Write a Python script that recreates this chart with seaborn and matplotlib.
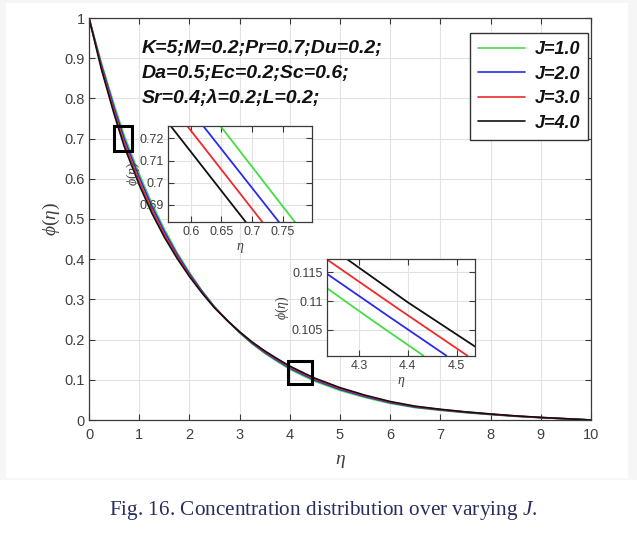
import numpy as np
import pandas as pd
import matplotlib
matplotlib.use("Agg")
import matplotlib.pyplot as plt
from matplotlib.patches import Rectangle
import seaborn as sns

# ---------------- data ----------------
eta = [0, 0.25, 0.5, 0.7, 1, 1.25, 1.5, 1.75, 2, 2.25, 2.5, 2.75, 3, 3.25, 3.5, 3.75,
       4, 4.3, 4.5, 5, 5.5, 6, 6.5, 7, 7.5, 8, 8.5, 9, 9.5, 10]
phi_J1 = [1.000, 0.887, 0.784, 0.708, 0.612, 0.539, 0.475, 0.417, 0.367, 0.322, 0.282, 0.248,
          0.217, 0.1895, 0.166, 0.1455, 0.1263, 0.1079, 0.0962, 0.0735, 0.056, 0.0413, 0.0307,
          0.024, 0.0182, 0.0134, 0.0091, 0.0058, 0.0029, 0.000]
phi_J2 = [1.000, 0.882, 0.777, 0.700, 0.604, 0.532, 0.469, 0.413, 0.364, 0.320, 0.281, 0.248,
          0.218, 0.191, 0.168, 0.148, 0.129, 0.1107, 0.099, 0.076, 0.058, 0.043, 0.032,
          0.025, 0.019, 0.014, 0.0095, 0.006, 0.003, 0.000]
phi_J3 = [1.000, 0.876, 0.768, 0.690, 0.594, 0.523, 0.4615, 0.408, 0.360, 0.3175, 0.280, 0.248,
          0.219, 0.1927, 0.1702, 0.1505, 0.1317, 0.1134, 0.1017, 0.0785, 0.060, 0.0447, 0.0333,
          0.026, 0.0198, 0.0146, 0.0099, 0.0062, 0.0031, 0.000]
phi_J4 = [1.000, 0.871, 0.761, 0.681, 0.585, 0.515, 0.455, 0.403, 0.357, 0.316, 0.279, 0.248,
          0.2195, 0.194, 0.172, 0.1525, 0.134, 0.1157, 0.104, 0.0805, 0.0617, 0.046, 0.0343,
          0.0267, 0.0203, 0.015, 0.0102, 0.0064, 0.0032, 0.000]

labels = ["J=1.0", "J=2.0", "J=3.0", "J=4.0"]
colors = ["#44dd44", "#2a2aee", "#ee2a2a", "#111111"]

# inset 1 (near eta = 0.7)
in1_phi = [0.7257, 0.6822]
in1_eta_J1 = [0.648, 0.770]
in1_eta_J2 = [0.620, 0.744]
in1_eta_J3 = [0.594, 0.717]
in1_eta_J4 = [0.567, 0.690]

# inset 2 (near eta = 4.3)
in2_eta_J1 = [4.234, 4.330, 4.432]
in2_phi_J1 = [0.1123, 0.1065, 0.1005]
in2_eta_J2 = [4.234, 4.360, 4.479]
in2_phi_J2 = [0.1148, 0.1074, 0.1005]
in2_eta_J3 = [4.234, 4.380, 4.522]
in2_phi_J3 = [0.1173, 0.1087, 0.1005]
in2_eta_J4 = [4.276, 4.400, 4.5375]
in2_phi_J4 = [0.1173, 0.1098, 0.1021]

# ---------------- style ----------------
sns.set_theme(style="whitegrid")
plt.rcParams["font.family"] = ["Liberation Sans", "DejaVu Sans"]
plt.rcParams["mathtext.fontset"] = "custom"
plt.rcParams["mathtext.rm"] = "Liberation Serif"
plt.rcParams["mathtext.it"] = "Liberation Serif:italic"
plt.rcParams["mathtext.bf"] = "Liberation Serif:bold"

W, H = 637, 533
fig = plt.figure(figsize=(W / 100, H / 100), dpi=100)
fig.patch.set_facecolor("white")
fig.patches.append(Rectangle((0, (H - 480) / H), 1, 480 / H, transform=fig.transFigure,
                             facecolor="#f6f6f6", edgecolor="none", zorder=-10))
fig.patches.append(Rectangle((6 / W, (H - 478) / H), 622 / W, 475 / H, transform=fig.transFigure,
                             facecolor="white", edgecolor="none", zorder=-9))

def fx(px):
    return px / W

def fy(py):
    return 1 - py / H

axis_col = "#3a3a3a"
grid_col = "#e2e2e2"

def style_axes(ax, fs):
    ax.set_facecolor("white")
    for s in ax.spines.values():
        s.set_color(axis_col)
        s.set_linewidth(0.9)
        s.set_visible(True)
    ax.grid(True, color=grid_col, linewidth=0.8)
    ax.tick_params(direction="in", length=4, width=0.8, colors=axis_col,
                   labelsize=fs, labelcolor="#404040", top=True, right=True,
                   bottom=True, left=True, pad=3)

# main axes
left, right, top, bottom = 89, 591, 18, 420
ax = fig.add_axes([fx(left), fy(bottom), fx(right - left), (bottom - top) / H])
series = [phi_J1, phi_J2, phi_J3, phi_J4]
for vals, lab, c in zip(series, labels, colors):
    sns.lineplot(x=eta, y=vals, ax=ax, color=c, label=lab, linewidth=1.2)
ax.set_xlim(0, 10)
ax.set_ylim(0, 1)
ax.set_xticks(np.arange(0, 11, 1))
ax.set_yticks(np.arange(0, 1.01, 0.1))
ax.set_xticklabels([str(i) for i in range(11)])
ax.set_yticklabels(["0"] + [f"{v:.1f}" for v in np.arange(0.1, 0.95, 0.1)] + ["1"])
style_axes(ax, 10.5)
ax.tick_params(axis="x", pad=6)
ax.set_xlabel(r"$\eta$", fontsize=14, color="#404040", labelpad=8)
ax.set_ylabel(r"$\phi(\eta)$", fontsize=14, color="#404040", labelpad=2)

leg = ax.legend(loc="upper right", bbox_to_anchor=(0.994, 0.963), borderaxespad=0,
                frameon=True, fancybox=False, handlelength=2.6, handletextpad=0.5,
                borderpad=0.45, labelspacing=0.42,
                prop={"family": "Liberation Sans", "weight": "bold", "style": "italic", "size": 13})
leg.get_frame().set_edgecolor("#333333")
leg.get_frame().set_linewidth(1.0)
leg.get_frame().set_facecolor("white")
leg.get_frame().set_alpha(1)
for t in leg.get_texts():
    t.set_color("#111111")

ann = ["K=5;M=0.2;Pr=0.7;Du=0.2;", "Da=0.5;Ec=0.2;Sc=0.6;", "Sr=0.4;\u03bb=0.2;L=0.2;"]
for i, line in enumerate(ann):
    ax.text(1.05, 0.923 - i * 0.062, line, fontsize=14, fontweight="bold",
            fontstyle="italic", color="#111111", va="center", ha="left",
            family=["Liberation Sans", "DejaVu Sans"])

# zoom markers
ax.add_patch(Rectangle((0.50, 0.670), 0.35, 0.061, fill=False, edgecolor="black", linewidth=2.2, zorder=5))
ax.add_patch(Rectangle((3.96, 0.090), 0.476, 0.0575, fill=False, edgecolor="black", linewidth=2.2, zorder=5))

# inset 1
i1l, i1r, i1t, i1b = 168, 311.7, 125.7, 222.3
ax1 = fig.add_axes([fx(i1l), fy(i1b), fx(i1r - i1l), (i1b - i1t) / H])
for xs, c in zip([in1_eta_J1, in1_eta_J2, in1_eta_J3, in1_eta_J4], colors):
    sns.lineplot(x=xs, y=in1_phi, ax=ax1, color=c, linewidth=1.3)
ax1.set_xlim(0.563, 0.797)
ax1.set_ylim(0.6822, 0.7257)
ax1.set_xticks([0.6, 0.65, 0.7, 0.75])
ax1.set_xticklabels(["0.6", "0.65", "0.7", "0.75"])
ax1.set_yticks([0.69, 0.70, 0.71, 0.72])
ax1.set_yticklabels(["0.69", "0.7", "0.71", "0.72"])
style_axes(ax1, 9)
ax1.set_xlabel(r"$\eta$", fontsize=10, color="#404040", labelpad=2)
ax1.set_ylabel(r"$\phi(\eta)$", fontsize=10, color="#404040", labelpad=-2)

# inset 2
i2l, i2r, i2t, i2b = 326.7, 475, 259.3, 355.7
ax2 = fig.add_axes([fx(i2l), fy(i2b), fx(i2r - i2l), (i2b - i2t) / H])
for xs, ys, c in zip([in2_eta_J1, in2_eta_J2, in2_eta_J3, in2_eta_J4],
                     [in2_phi_J1, in2_phi_J2, in2_phi_J3, in2_phi_J4], colors):
    sns.lineplot(x=xs, y=ys, ax=ax2, color=c, linewidth=1.3)
ax2.set_xlim(4.234, 4.5375)
ax2.set_ylim(0.1005, 0.1173)
ax2.set_xticks([4.3, 4.4, 4.5])
ax2.set_xticklabels(["4.3", "4.4", "4.5"])
ax2.set_yticks([0.105, 0.11, 0.115])
ax2.set_yticklabels(["0.105", "0.11", "0.115"])
style_axes(ax2, 9)
ax2.set_xlabel(r"$\eta$", fontsize=10, color="#404040", labelpad=2)
ax2.set_ylabel(r"$\phi(\eta)$", fontsize=10, color="#404040", labelpad=0)

fig.text(fx(323), fy(511), r"Fig. 16. Concentration distribution over varying $J$.",
         ha="center", va="center", fontsize=15.3, color="#2a2d5e",
         family=["Liberation Serif", "DejaVu Serif"])

fig.savefig("out.png", dpi=100)
